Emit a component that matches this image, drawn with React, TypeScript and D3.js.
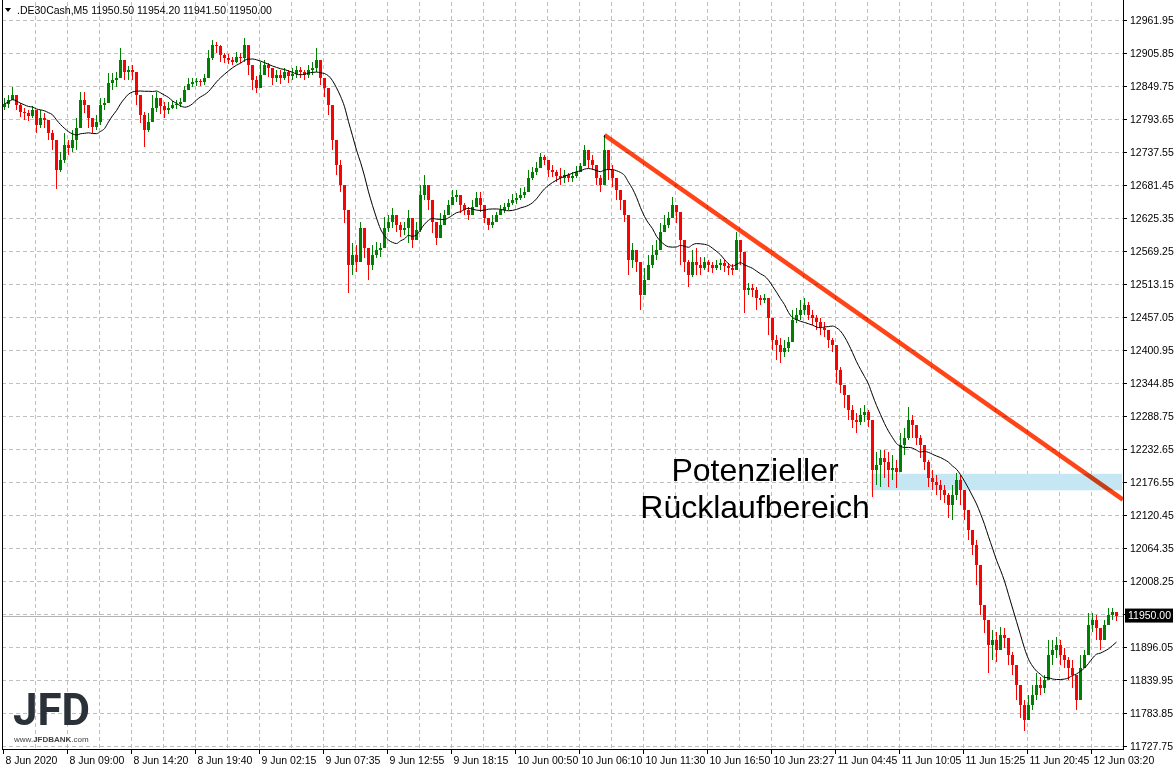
import React from "react";
import * as d3 from "d3";

const symbol = ".DE30Cash,M5";
const headerValues = ["11950.50", "11954.20", "11941.50", "11950.00"];
const firstOpen = 12815;
const closes = [
  12820, 12826, 12835, 12818, 12806, 12804, 12799, 12809, 12784, 12796, 12792, 12770, 12758, 12707, 12724, 12750,
  12745, 12758, 12779, 12826, 12818, 12796, 12781, 12789, 12818, 12821, 12855, 12860, 12864, 12894, 12874, 12877,
  12874, 12835, 12801, 12775, 12789, 12813, 12830, 12816, 12809, 12813, 12818, 12820, 12823, 12843, 12854, 12857,
  12859, 12857, 12864, 12898, 12920, 12918, 12903, 12898, 12894, 12891, 12900, 12898, 12920, 12886, 12860, 12847,
  12869, 12886, 12881, 12864, 12869, 12864, 12874, 12867, 12871, 12877, 12874, 12869, 12877, 12881, 12894, 12864,
  12847, 12818, 12758, 12716, 12682, 12639, 12546, 12563, 12551, 12609, 12575, 12546, 12563, 12571, 12575, 12609,
  12619, 12631, 12614, 12605, 12609, 12626, 12588, 12605, 12665, 12682, 12656, 12619, 12592, 12614, 12631, 12648,
  12662, 12665, 12648, 12639, 12631, 12645, 12660, 12648, 12626, 12614, 12619, 12631, 12639, 12645, 12651, 12656,
  12660, 12665, 12670, 12694, 12704, 12711, 12730, 12724, 12707, 12704, 12697, 12694, 12699, 12694, 12697, 12704,
  12714, 12741, 12724, 12716, 12694, 12682, 12741, 12707, 12694, 12673, 12656, 12631, 12554, 12571, 12551, 12495,
  12520, 12546, 12563, 12571, 12602, 12614, 12626, 12648, 12636, 12588, 12551, 12529, 12551, 12546, 12541, 12551,
  12546, 12541, 12546, 12549, 12544, 12541, 12537, 12588, 12568, 12503, 12507, 12503, 12490, 12486, 12490, 12456,
  12418, 12410, 12398, 12405, 12415, 12452, 12461, 12469, 12478, 12461, 12456, 12449, 12439, 12435, 12418, 12410,
  12367, 12342, 12325, 12299, 12282, 12279, 12291, 12296, 12282, 12197, 12206, 12218, 12211, 12197, 12201, 12194,
  12240, 12252, 12282, 12274, 12252, 12240, 12211, 12184, 12177, 12172, 12163, 12155, 12138, 12155, 12180, 12163,
  12129, 12095, 12070, 12036, 11968, 11942, 11900, 11908, 11891, 11917, 11912, 11883, 11866, 11832, 11798, 11772,
  11798, 11815, 11832, 11827, 11840, 11883, 11891, 11900, 11883, 11874, 11861, 11849, 11806, 11861, 11883, 11934,
  11942, 11929, 11908, 11934, 11951, 11956, 11950,
];
const highs = [
  12830, 12835, 12849, 12832, 12821, 12813, 12809, 12816, 12806, 12809, 12804, 12789, 12775, 12741, 12738, 12770,
  12758, 12775, 12796, 12840, 12840, 12818, 12796, 12801, 12830, 12830, 12872, 12872, 12874, 12915, 12891, 12884,
  12886, 12864, 12830, 12806, 12804, 12835, 12840, 12826, 12823, 12823, 12825, 12826, 12830, 12850, 12864, 12864,
  12864, 12862, 12871, 12911, 12928, 12925, 12920, 12906, 12905, 12900, 12908, 12906, 12932, 12903, 12877, 12867,
  12891, 12894, 12889, 12877, 12877, 12877, 12881, 12877, 12881, 12884, 12883, 12877, 12886, 12891, 12915, 12877,
  12860, 12835, 12801, 12741, 12724, 12679, 12622, 12583, 12580, 12619, 12597, 12571, 12580, 12585, 12583, 12628,
  12631, 12643, 12631, 12619, 12619, 12639, 12611, 12619, 12682, 12699, 12679, 12639, 12614, 12634, 12639, 12656,
  12673, 12673, 12662, 12651, 12645, 12656, 12670, 12670, 12636, 12626, 12631, 12636, 12648, 12651, 12658, 12667,
  12668, 12677, 12679, 12707, 12713, 12721, 12736, 12733, 12724, 12716, 12707, 12711, 12707, 12702, 12704, 12714,
  12719, 12750, 12738, 12733, 12713, 12699, 12767, 12733, 12716, 12685, 12673, 12651, 12614, 12583, 12571, 12529,
  12541, 12563, 12580, 12588, 12617, 12631, 12636, 12662, 12648, 12631, 12571, 12554, 12571, 12575, 12560, 12560,
  12554, 12551, 12554, 12556, 12554, 12549, 12548, 12602, 12588, 12546, 12515, 12514, 12509, 12495, 12497, 12486,
  12452, 12427, 12422, 12418, 12424, 12469, 12473, 12486, 12490, 12483, 12469, 12461, 12456, 12449, 12435, 12422,
  12393, 12373, 12342, 12325, 12308, 12294, 12303, 12308, 12299, 12282, 12228, 12231, 12231, 12228, 12223, 12214,
  12260, 12269, 12305, 12291, 12274, 12257, 12240, 12214, 12197, 12189, 12180, 12172, 12158, 12172, 12192, 12189,
  12163, 12124, 12095, 12078, 12002, 11965, 11931, 11925, 11922, 11931, 11929, 11908, 11888, 11866, 11827, 11806,
  11815, 11832, 11852, 11846, 11849, 11908, 11908, 11914, 11908, 11895, 11880, 11874, 11840, 11883, 11891, 11954,
  11954, 11951, 11925, 11942, 11963, 11963, 11954.2,
];
const lows = [
  12809, 12813, 12826, 12809, 12798, 12792, 12791, 12796, 12770, 12779, 12779, 12758, 12741, 12675, 12704, 12719,
  12733, 12738, 12741, 12784, 12804, 12779, 12770, 12775, 12784, 12809, 12826, 12843, 12849, 12869, 12860, 12860,
  12860, 12818, 12787, 12747, 12772, 12792, 12806, 12803, 12796, 12803, 12811, 12811, 12815, 12826, 12843, 12849,
  12850, 12850, 12852, 12869, 12894, 12906, 12891, 12889, 12888, 12886, 12889, 12889, 12891, 12869, 12843, 12838,
  12852, 12869, 12866, 12852, 12857, 12854, 12860, 12855, 12860, 12864, 12864, 12860, 12864, 12869, 12874, 12852,
  12832, 12801, 12741, 12699, 12670, 12617, 12498, 12529, 12534, 12571, 12558, 12520, 12537, 12558, 12560, 12588,
  12602, 12609, 12602, 12594, 12597, 12583, 12575, 12588, 12602, 12656, 12639, 12600, 12580, 12602, 12614, 12634,
  12648, 12653, 12634, 12631, 12622, 12634, 12648, 12636, 12617, 12605, 12609, 12622, 12631, 12634, 12639, 12648,
  12650, 12656, 12660, 12670, 12690, 12699, 12716, 12716, 12696, 12696, 12687, 12682, 12685, 12687, 12687, 12694,
  12704, 12724, 12711, 12707, 12682, 12670, 12682, 12690, 12679, 12656, 12639, 12619, 12529, 12541, 12534, 12469,
  12503, 12524, 12541, 12554, 12585, 12602, 12609, 12634, 12617, 12546, 12534, 12509, 12526, 12529, 12529, 12537,
  12534, 12532, 12537, 12537, 12534, 12529, 12529, 12537, 12546, 12464, 12495, 12492, 12469, 12478, 12481, 12427,
  12401, 12384, 12379, 12390, 12398, 12418, 12447, 12452, 12461, 12452, 12444, 12435, 12427, 12424, 12405, 12398,
  12345, 12328, 12303, 12282, 12269, 12260, 12274, 12279, 12271, 12152, 12172, 12169, 12184, 12169, 12180, 12167,
  12197, 12223, 12248, 12252, 12240, 12218, 12197, 12169, 12163, 12155, 12146, 12141, 12116, 12112, 12146, 12138,
  12112, 12078, 12053, 12002, 11951, 11920, 11852, 11874, 11871, 11900, 11895, 11866, 11849, 11806, 11776, 11754,
  11781, 11789, 11806, 11815, 11818, 11861, 11866, 11878, 11866, 11861, 11840, 11827, 11789, 11840, 11861, 11908,
  11922, 11908, 11891, 11908, 11934, 11942, 11941.5,
];
const priceTicks = [
  12961.95, 12905.85, 12849.75, 12793.65, 12737.55, 12681.45, 12625.35, 12569.25, 12513.15, 12457.05, 12400.95,
  12344.85, 12288.75, 12232.65, 12176.55, 12120.45, 12064.35, 12008.25, 11952.15, 11896.05, 11839.95, 11783.85,
  11727.75,
];
const timeLabels = [
  "8 Jun 2020", "8 Jun 09:00", "8 Jun 14:20", "8 Jun 19:40", "9 Jun 02:15", "9 Jun 07:35", "9 Jun 12:55",
  "9 Jun 18:15", "10 Jun 00:50", "10 Jun 06:10", "10 Jun 11:30", "10 Jun 16:50", "10 Jun 23:27", "11 Jun 04:45",
  "11 Jun 10:05", "11 Jun 15:25", "11 Jun 20:45", "12 Jun 03:20",
];
const currentPrice = 11950.0;
const maPeriod = 13;
const trendStart = { index: 150, price: 12767 };
const trendEnd = { index: 279.6, price: 12147 };
const zone = { startIndex: 217, top: 12191, bottom: 12163 };
const annotation = ["Potenzieller", "Rücklaufbereich"];
const logoText = "JFD";
const logoUrl = ["www.", "JFDBANK", ".com"];

const W = 1176;
const H = 770;
const plotLeft = 2;
const plotRight = 1123;
const plotBottom = 749;

export default function App() {
  const n = closes.length;
  const x = d3.scaleLinear().domain([0, n - 1]).range([4.5, 4.5 + 4 * (n - 1)]);
  const y = d3.scaleLinear().domain([11727.75, 12961.95]).range([746.3, 20.3]);
  const candles = closes.map((c, i) => ({
    o: i === 0 ? firstOpen : closes[i - 1],
    c,
    h: highs[i],
    l: lows[i],
  }));
  const ma = closes.map((_, i) => {
    const s = closes.slice(Math.max(0, i - maPeriod + 1), i + 1);
    return d3.mean(s) as number;
  });
  const maLine = d3
    .line<number>()
    .x((_, i) => x(i))
    .y((d) => y(d))
    .curve(d3.curveMonotoneX);
  const gridXs = d3.range(8, n + 8, 8).map((i) => x(i) - 1);
  const labelIdx = timeLabels.map((_, k) => k * 16);
  const font = "'Liberation Sans', Arial, sans-serif";

  return (
    <svg width={W} height={H} style={{ display: "block", position: "absolute", left: 0, top: 0 }} fontFamily={font}>
      <rect x={0} y={0} width={W} height={H} fill="#fff" />
      {/* grid */}
      <g stroke="#c0c0c0" strokeWidth={1} strokeDasharray="4,3" shapeRendering="crispEdges">
        {priceTicks.map((t) => (
          <line key={t} x1={plotLeft} x2={plotRight} y1={Math.round(y(t)) + 0.5} y2={Math.round(y(t)) + 0.5} />
        ))}
        {gridXs.map((gx, k) => (
          <line key={k} x1={gx} x2={gx} y1={2} y2={plotBottom} />
        ))}
      </g>
      {/* zone */}
      <rect
        x={x(zone.startIndex) - 1.5}
        y={y(zone.top)}
        width={plotRight - (x(zone.startIndex) - 1.5) - 1}
        height={y(zone.bottom) - y(zone.top)}
        fill="#c5e6f3"
      />
      {/* current price line */}
      <line
        x1={plotLeft}
        x2={plotRight}
        y1={Math.round(y(currentPrice)) + 0.5}
        y2={Math.round(y(currentPrice)) + 0.5}
        stroke="#b4b4b4"
        strokeWidth={1}
      />
      {/* candles */}
      <g shapeRendering="crispEdges">
        {candles.map((d, i) => {
          const col = d.c >= d.o ? "#008000" : "#ff0000";
          const top = y(Math.max(d.o, d.c));
          const bot = y(Math.min(d.o, d.c));
          return (
            <g key={i}>
              <line x1={x(i)} x2={x(i)} y1={y(d.h)} y2={y(d.l)} stroke={col} strokeWidth={1} />
              <rect x={x(i) - 1.5} y={top} width={3} height={Math.max(1, bot - top)} fill={col} />
            </g>
          );
        })}
      </g>
      {/* moving average */}
      <path d={maLine(ma) || ""} fill="none" stroke="#000" strokeWidth={1} />
      {/* trend line */}
      <line
        x1={x(trendStart.index)}
        y1={y(trendStart.price)}
        x2={x(trendEnd.index)}
        y2={y(trendEnd.price)}
        stroke="#ff4418"
        strokeWidth={4.5}
        style={{ mixBlendMode: "multiply" }}
      />
      {/* annotation */}
      <g fontSize={32} fill="#000" textAnchor="middle">
        <text x={755} y={481}>{annotation[0]}</text>
        <text x={755} y={518}>{annotation[1]}</text>
      </g>
      {/* logo */}
      <g>
        <text
          x={13}
          y={725}
          fontFamily="Roboto, 'Liberation Sans', sans-serif"
          fontWeight={700}
          fontSize={44}
          fill="#2b3138"
          textLength={77}
          lengthAdjust="spacingAndGlyphs"
        >
          {logoText}
        </text>
        <text x={14} y={742} fontSize={8} fill="#444">
          {logoUrl[0]}
          <tspan fontWeight={700}>{logoUrl[1]}</tspan>
          {logoUrl[2]}
        </text>
      </g>
      {/* frame */}
      <g stroke="#000" strokeWidth={1} fill="none" shapeRendering="crispEdges">
        <line x1={plotLeft + 0.5} x2={plotLeft + 0.5} y1={0} y2={plotBottom} />
        <line x1={plotLeft} x2={plotRight + 1} y1={plotBottom + 0.5} y2={plotBottom + 0.5} />
        <line x1={plotRight + 0.5} x2={plotRight + 0.5} y1={0} y2={plotBottom} />
      </g>
      {/* y axis */}
      <g fontSize={10.5} fill="#000">
        {priceTicks.map((t) => (
          <g key={t}>
            <line x1={plotRight} x2={plotRight + 4} y1={Math.round(y(t)) + 0.5} y2={Math.round(y(t)) + 0.5} stroke="#000" />
            <text x={plotRight + 7} y={y(t)} dy="0.35em">
              {t.toFixed(2)}
            </text>
          </g>
        ))}
        <rect x={plotRight + 2} y={y(currentPrice) - 7} width={48} height={14} fill="#000" />
        <text x={plotRight + 5} y={y(currentPrice)} dy="0.35em" fill="#fff">
          {currentPrice.toFixed(2)}
        </text>
      </g>
      {/* x axis */}
      <g fontSize={10.5} fill="#000">
        {labelIdx.map((idx, k) => {
          const lx = x(idx) - 1;
          return (
            <g key={k}>
              <line x1={lx} x2={lx} y1={plotBottom} y2={plotBottom + 5} stroke="#000" />
              <text x={lx + 2} y={764}>
                {timeLabels[k]}
              </text>
            </g>
          );
        })}
      </g>
      {/* header */}
      <path d="M5,8 L11,8 L8,12 Z" fill="#000" />
      <text x={17} y={14} fontSize={10.5} fill="#000">
        {symbol} {headerValues.join(" ")}
      </text>
    </svg>
  );
}
